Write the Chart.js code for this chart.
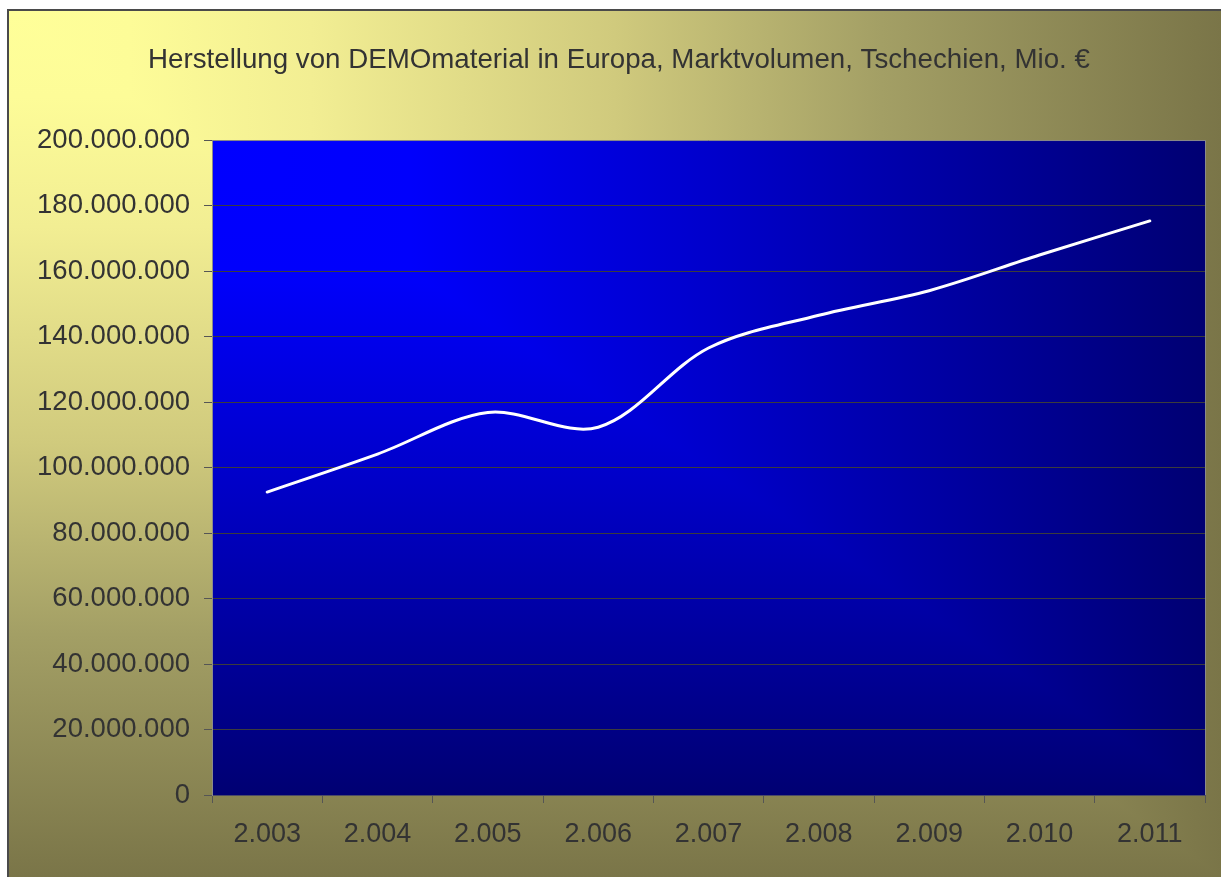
<!DOCTYPE html>
<html>
<head>
<meta charset="utf-8">
<script src="https://cdn.jsdelivr.net/npm/chart.js@4"></script>
<style>
  html, body { margin: 0; padding: 0; background: #fff; }
  canvas { display: block; }
</style>
</head>
<body>
<canvas id="graph" width="1221" height="877"></canvas>
<script>
const titleText = "Herstellung von DEMOmaterial in Europa, Marktvolumen, Tschechien, Mio. €";
const years = ["2.003", "2.004", "2.005", "2.006", "2.007", "2.008", "2.009", "2.010", "2.011"];
const volumes = [92500000, 104100000, 116800000, 112300000, 136500000, 146500000, 154000000, 164900000, 175300000];

const textColor = "#333333";
const fontFamily = "'Liberation Sans', Arial, sans-serif";
const padLeft = 33;

// german thousand separators: 200.000.000
const formatDe = (v) => String(Math.round(v)).replace(/\B(?=(\d{3})+(?!\d))/g, ".");

// excel "from corner" gradient: colour depends on max(x/w, y/h)
function cornerFill(ctx, x0, y0, x1, y1, stops) {
	const vert = ctx.createLinearGradient(0, y0, 0, y1);
	const horiz = ctx.createLinearGradient(x0, 0, x1, 0);
	stops.forEach(([p, c]) => {
		vert.addColorStop(p, c);
		horiz.addColorStop(p, c);
	});
	ctx.fillStyle = vert;
	ctx.fillRect(x0, y0, x1 - x0, y1 - y0);
	ctx.save();
	ctx.beginPath();
	ctx.moveTo(x0, y0);
	ctx.lineTo(x1, y0);
	ctx.lineTo(x1, y1);
	ctx.closePath();
	ctx.clip();
	ctx.fillStyle = horiz;
	ctx.fillRect(x0, y0, x1 - x0, y1 - y0);
	ctx.restore();
}

const backgrounds = {
	id: "backgrounds",
	beforeDraw(chart) {
		const { ctx, width, height, chartArea: a } = chart;
		ctx.save();
		ctx.fillStyle = "#ffffff";
		ctx.fillRect(0, 0, width, height);
		cornerFill(ctx, 8, 10, width, height, [
			[0, "#ffff99"],
			[0.1, "#fdfc98"],
			[0.25, "#f2ee93"],
			[0.5, "#d0ca7d"],
			[0.72, "#a39f65"],
			[1, "#7a7548"],
		]);
		ctx.strokeStyle = "#4a4a4a";
		ctx.lineWidth = 2;
		ctx.beginPath();
		ctx.moveTo(8, height);
		ctx.lineTo(8, 10);
		ctx.lineTo(width, 10);
		ctx.stroke();
		cornerFill(ctx, a.left, a.top, a.right, a.bottom, [
			[0, "#0000ff"],
			[0.2, "#0000fc"],
			[0.5, "#0000cc"],
			[0.75, "#0000a0"],
			[1, "#000072"],
		]);
		ctx.restore();
	},
	beforeDatasetsDraw(chart) {
		const { ctx, chartArea: a } = chart;
		ctx.save();
		ctx.strokeStyle = "#8a8a8a";
		ctx.lineWidth = 1;
		ctx.beginPath();
		ctx.moveTo(a.left, a.top + 0.5);
		ctx.lineTo(a.right + 0.5, a.top + 0.5);
		ctx.lineTo(a.right + 0.5, a.bottom);
		ctx.stroke();
		ctx.restore();
	},
};

new Chart(document.getElementById("graph"), {
	type: "line",
	data: {
		labels: years,
		datasets: [
			{
				label: "Marktvolumen",
				data: volumes,
				borderColor: "#ffffff",
				borderWidth: 3,
				borderCapStyle: "round",
				pointRadius: 0,
				tension: 0.33,
				fill: false,
			},
		],
	},
	options: {
		responsive: false,
		animation: false,
		layout: { padding: { left: padLeft, top: 0, right: 16, bottom: 0 } },
		plugins: {
			legend: { display: false },
			tooltip: { enabled: false },
			title: {
				display: true,
				text: titleText,
				color: textColor,
				font: { family: fontFamily, size: 27.7, weight: "normal" },
				padding: { top: 44, bottom: 62.8 },
			},
		},
		scales: {
			x: {
				offset: true,
				grid: {
					offset: true,
					drawOnChartArea: false,
					drawTicks: true,
					tickLength: 8,
					tickColor: "#555555",
				},
				border: { display: true, color: "#4a4a66", width: 1 },
				ticks: {
					color: textColor,
					font: { family: fontFamily, size: 27 },
					padding: 15,
					maxRotation: 0,
				},
				afterFit(scale) {
					scale.height = 82;
				},
			},
			y: {
				min: 0,
				max: 200000000,
				grid: {
					color: "#3c3c3c",
					lineWidth: 1,
					drawTicks: true,
					tickLength: 8,
					tickColor: "#555555",
				},
				border: { display: true, color: "#8a8a8a", width: 1 },
				ticks: {
					stepSize: 20000000,
					color: textColor,
					font: { family: fontFamily, size: 27.5 },
					padding: 14,
					callback: (v) => formatDe(v),
				},
				afterFit(scale) {
					scale.width = 212 - padLeft;
				},
			},
		},
	},
	plugins: [backgrounds],
});
</script>
</body>
</html>
